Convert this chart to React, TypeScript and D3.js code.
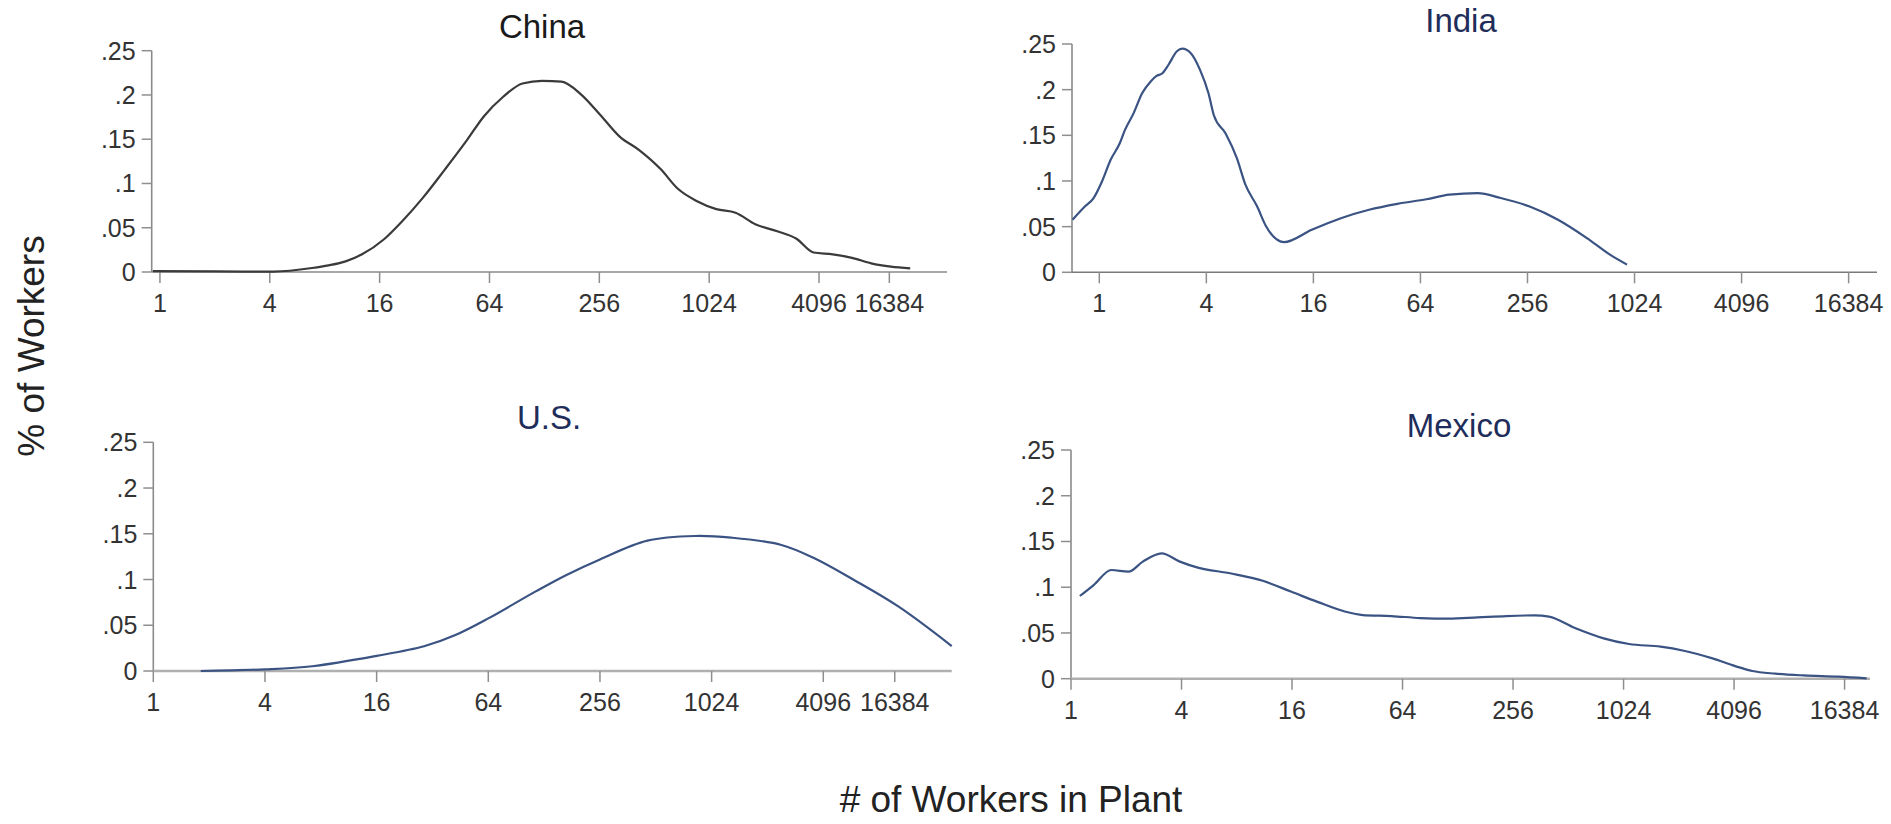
import React from "react";
import * as d3 from "d3";

// x values are log2(# of workers); y values are share of workers
const tickLabels = ["1", "4", "16", "64", "256", "1024", "4096", "16384"];
const tickPosCompressed = [0, 2, 4, 6, 8, 10, 12, 13.28];
const tickPosRegular = [0, 2, 4, 6, 8, 10, 12, 14];
const yTicks = [0, 0.05, 0.1, 0.15, 0.2, 0.25];
const yTickLabels = ["0", ".05", ".1", ".15", ".2", ".25"];

const chinaX = [-0.13, 1.0, 2.07, 2.77, 3.07, 3.38, 3.68, 4.08, 4.39, 4.79, 5.19, 5.59, 5.9, 6.25, 6.6, 6.96, 7.31, 7.66, 8.01, 8.37, 8.72, 9.12, 9.43, 9.78, 10.13, 10.48, 10.84, 11.24, 11.59, 11.9, 12.25, 12.6, 12.95, 13.31, 13.66];
const chinaY = [0.001, 0.0006, 0.0005, 0.0045, 0.0075, 0.012, 0.02, 0.037, 0.056, 0.084, 0.116, 0.149, 0.176, 0.198, 0.213, 0.216, 0.215, 0.201, 0.178, 0.153, 0.138, 0.116, 0.094, 0.08, 0.071, 0.067, 0.054, 0.046, 0.0375, 0.022, 0.02, 0.016, 0.0098, 0.006, 0.004];

const indiaX = [-0.5, -0.27, -0.11, 0.05, 0.21, 0.38, 0.48, 0.64, 0.8, 0.96, 1.07, 1.18, 1.29, 1.45, 1.55, 1.71, 1.88, 2.04, 2.14, 2.36, 2.57, 2.73, 2.95, 3.11, 3.45, 3.97, 4.5, 5.04, 5.57, 6.11, 6.54, 7.07, 7.5, 8.04, 8.57, 9.11, 9.54, 9.86];
const indiaY = [0.0576, 0.072, 0.081, 0.0995, 0.123, 0.141, 0.156, 0.174, 0.196, 0.209, 0.215, 0.218, 0.227, 0.242, 0.245, 0.24, 0.222, 0.196, 0.172, 0.152, 0.125, 0.096, 0.072, 0.051, 0.033, 0.0466, 0.059, 0.0685, 0.075, 0.08, 0.085, 0.0867, 0.0813, 0.072, 0.0576, 0.0375, 0.0193, 0.0084];

const usX = [0.85, 2.0, 2.85, 4.0, 4.85, 5.4, 6.0, 6.85, 7.4, 8.0, 8.85, 9.7, 10.35, 11.25, 11.85, 12.55, 13.35, 14.3];
const usY = [0.0, 0.0018, 0.0052, 0.0165, 0.027, 0.039, 0.0575, 0.087, 0.105, 0.122, 0.1425, 0.1476, 0.1458, 0.1378, 0.123, 0.0995, 0.0703, 0.0273];

const mexicoX = [0.16, 0.41, 0.73, 1.04, 1.3, 1.64, 1.97, 2.28, 2.9, 3.47, 3.99, 4.46, 4.97, 5.28, 5.8, 6.32, 6.84, 7.36, 7.88, 8.39, 8.65, 9.12, 9.64, 10.1, 10.67, 11.09, 11.61, 12.02, 12.33, 12.75, 13.26, 13.89, 14.4];
const mexicoY = [0.0904, 0.1024, 0.1188, 0.117, 0.128, 0.137, 0.128, 0.1217, 0.115, 0.107, 0.095, 0.084, 0.0732, 0.0696, 0.0685, 0.0663, 0.0656, 0.067, 0.0685, 0.0692, 0.0678, 0.0554, 0.0441, 0.0379, 0.035, 0.0306, 0.0222, 0.0138, 0.0084, 0.0055, 0.0036, 0.0022, 0.0004];

const FONT = "'Liberation Sans', Arial, Helvetica, sans-serif";

type PanelProps = {
  title: string;
  titleX: number;
  titleY: number;
  titleColor: string;
  lineColor: string;
  xs: number[];
  ys: number[];
  xDomain: [number, number];
  xRange: [number, number];
  yRange: [number, number];
  tickPos: number[];
  xAxisColor: string;
  xAxisWidth: number;
  smooth?: boolean;
};

function Panel(p: PanelProps) {
  const x = d3.scaleLinear().domain(p.xDomain).range(p.xRange);
  const y = d3.scaleLinear().domain([0, 0.25]).range(p.yRange);
  const pts: [number, number][] = p.xs.map((v, i) => [v, p.ys[i]]);
  const line = d3
    .line<[number, number]>()
    .x((d) => x(d[0]))
    .y((d) => y(d[1]))
    .curve(p.smooth ? d3.curveCatmullRom.alpha(0.5) : d3.curveMonotoneX);
  const x0 = p.xRange[0];
  const y0 = y(0);
  const tickColor = "#8e8e8e";
  return (
    <g>
      <text x={p.titleX} y={p.titleY} textAnchor="middle" fontSize={33} fill={p.titleColor} fontFamily={FONT}>
        {p.title}
      </text>
      {/* y axis */}
      <line x1={x0} x2={x0} y1={y(0.25)} y2={y0} stroke="#8a8a8a" strokeWidth={1.6} />
      {yTicks.map((t, i) => (
        <g key={"y" + i}>
          <line x1={x0 - 10} x2={x0} y1={y(t)} y2={y(t)} stroke={tickColor} strokeWidth={1.5} />
          <text x={x0 - 16} y={y(t)} dy="0.36em" textAnchor="end" fontSize={25} fill="#333" fontFamily={FONT}>
            {yTickLabels[i]}
          </text>
        </g>
      ))}
      {/* x axis */}
      <line x1={x0} x2={p.xRange[1]} y1={y0} y2={y0} stroke={p.xAxisColor} strokeWidth={p.xAxisWidth} />
      {p.tickPos.map((t, i) => (
        <g key={"x" + i}>
          <line x1={x(t)} x2={x(t)} y1={y0} y2={y0 + 11} stroke={tickColor} strokeWidth={1.5} />
          <text x={x(t)} y={y0 + 40} textAnchor="middle" fontSize={25} fill="#333" fontFamily={FONT}>
            {tickLabels[i]}
          </text>
        </g>
      ))}
      <path d={line(pts) || ""} fill="none" stroke={p.lineColor} strokeWidth={2.2} strokeLinejoin="round" />
    </g>
  );
}

export default function App() {
  const navy = "#3a5383";
  const navyTitle = "#1f2d5a";
  return (
    <svg
      width={1891}
      height={824}
      style={{ position: "absolute", left: 0, top: 0, background: "#fff" }}
    >
      <rect x={0} y={0} width={1891} height={824} fill="#fff" />
      <Panel
        title="China"
        titleX={542}
        titleY={38}
        titleColor="#1a1a1a"
        lineColor="#3a3a3a"
        xs={chinaX}
        ys={chinaY}
        xDomain={[-0.15, 14.33]}
        xRange={[151.7, 947]}
        yRange={[272, 50.7]}
        tickPos={tickPosCompressed}
        xAxisColor="#8a8a8a"
        xAxisWidth={1.6}
      />
      <Panel
        title="India"
        titleX={1461}
        titleY={32}
        titleColor={navyTitle}
        lineColor={navy}
        xs={indiaX}
        ys={indiaY}
        xDomain={[-0.51, 14.53]}
        xRange={[1072, 1877]}
        yRange={[272.3, 44]}
        tickPos={tickPosRegular}
        xAxisColor="#7a7a7a"
        xAxisWidth={1.6}
      />
      <Panel
        title="U.S."
        titleX={549}
        titleY={429}
        titleColor={navyTitle}
        lineColor={navy}
        xs={usX}
        ys={usY}
        xDomain={[0, 14.3]}
        xRange={[153.3, 951.7]}
        yRange={[671, 442.3]}
        tickPos={tickPosCompressed}
        xAxisColor="#b0b0b0"
        xAxisWidth={2.6}
        smooth
      />
      <Panel
        title="Mexico"
        titleX={1459}
        titleY={437}
        titleColor={navyTitle}
        lineColor={navy}
        xs={mexicoX}
        ys={mexicoY}
        xDomain={[0, 14.46]}
        xRange={[1071, 1870]}
        yRange={[678.7, 450]}
        tickPos={tickPosRegular}
        xAxisColor="#b0b0b0"
        xAxisWidth={2.6}
      />
      <text
        transform="translate(44,346) rotate(-90)"
        textAnchor="middle"
        fontSize={37}
        fill="#222"
        fontFamily={FONT}
      >
        % of Workers
      </text>
      <text x={1011} y={812} textAnchor="middle" fontSize={37} fill="#222" fontFamily={FONT}>
        # of Workers in Plant
      </text>
    </svg>
  );
}
